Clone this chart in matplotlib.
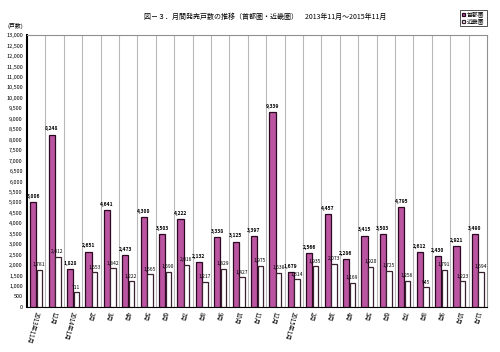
import numpy as np
import matplotlib
matplotlib.use('Agg')
import matplotlib.pyplot as plt

plt.rcParams['font.family'] = ['Noto Sans CJK JP', 'DejaVu Sans']

months = ['2013年11月', '12月', '2014年1月', '2月', '3月', '4月', '5月', '6月', '7月', '8月',
          '9月', '10月', '11月', '12月', '2015年1月', '2月', '3月', '4月', '5月', '6月',
          '7月', '8月', '9月', '10月', '11月']
shutoken = [5006, 8248, 1828, 2651, 4641, 2473, 4300, 3503, 4222, 2132,
            3338, 3125, 3397, 9339, 1679, 2566, 4457, 2286, 3415, 3503,
            4795, 2612, 2430, 2921, 3490]
kinki = [1781, 2412, 711, 1653, 1842, 1222, 1565, 1690, 2016, 1217,
         1829, 1427, 1975, 1638, 1314, 1935, 2073, 1169, 1920, 1725,
         1256, 945, 1791, 1223, 1694]
yticks = list(range(0, 13001, 500))

fig = plt.figure(figsize=(5, 3.52), dpi=100)
ax = fig.add_axes([0.054, 0.128, 0.92, 0.772])

x = np.arange(len(months))
ax.bar(x + 0.17, shutoken, width=0.34, align='edge', color='#bb55a2',
       edgecolor='#2a0820', linewidth=0.9, label='首都圏', zorder=3)
ax.bar(x + 0.53, kinki, width=0.3, align='edge', color='white',
       edgecolor='#3a2030', linewidth=0.9, label='近畿圏', zorder=3)

for i in range(len(months)):
    ax.text(i + 0.34, shutoken[i] + 150, f'{shutoken[i]:,}', ha='center', va='bottom',
            fontsize=3.6, fontweight='bold', zorder=4)
    ax.text(i + 0.66, kinki[i] + 120, f'{kinki[i]:,}', ha='center', va='bottom',
            fontsize=3.6, zorder=4)

ax.set_xlim(0, len(months))
ax.set_ylim(0, 13000)
ax.set_yticks(yticks)
ax.set_yticklabels([f'{v:,}' for v in yticks], fontsize=4)
ax.set_xticks(x + 0.5)
ax.set_xticklabels(months, fontsize=4.4, rotation=-105, rotation_mode='anchor',
                   ha='left', va='center')
ax.tick_params(axis='both', length=0, pad=3)

# vertical gridlines at category boundaries
for b in range(1, len(months)):
    ax.axvline(b, color='#b8b8b8', linewidth=0.8, zorder=1)

ax.spines['left'].set_linewidth(1.5)
ax.spines['left'].set_color('black')
ax.spines['bottom'].set_color('black')
ax.spines['top'].set_color('#909090')
ax.spines['right'].set_color('#909090')

fig.text(0.53, 0.952, '図－３．月間発売戸数の推移（首都圏・近畿圏）　2013年11月～2015年11月',
         ha='center', va='center', fontsize=5)
fig.text(0.03, 0.925, '(戸数)', ha='center', va='center', fontsize=4.2)

leg = ax.legend(loc='upper right', bbox_to_anchor=(1.006, 1.105), fontsize=4.2,
                frameon=True, fancybox=False, edgecolor='black', handlelength=0.6,
                handleheight=0.6, handletextpad=0.3, borderpad=0.35, labelspacing=0.2)
leg.get_frame().set_linewidth(0.6)

fig.savefig('out.png', dpi=100)
